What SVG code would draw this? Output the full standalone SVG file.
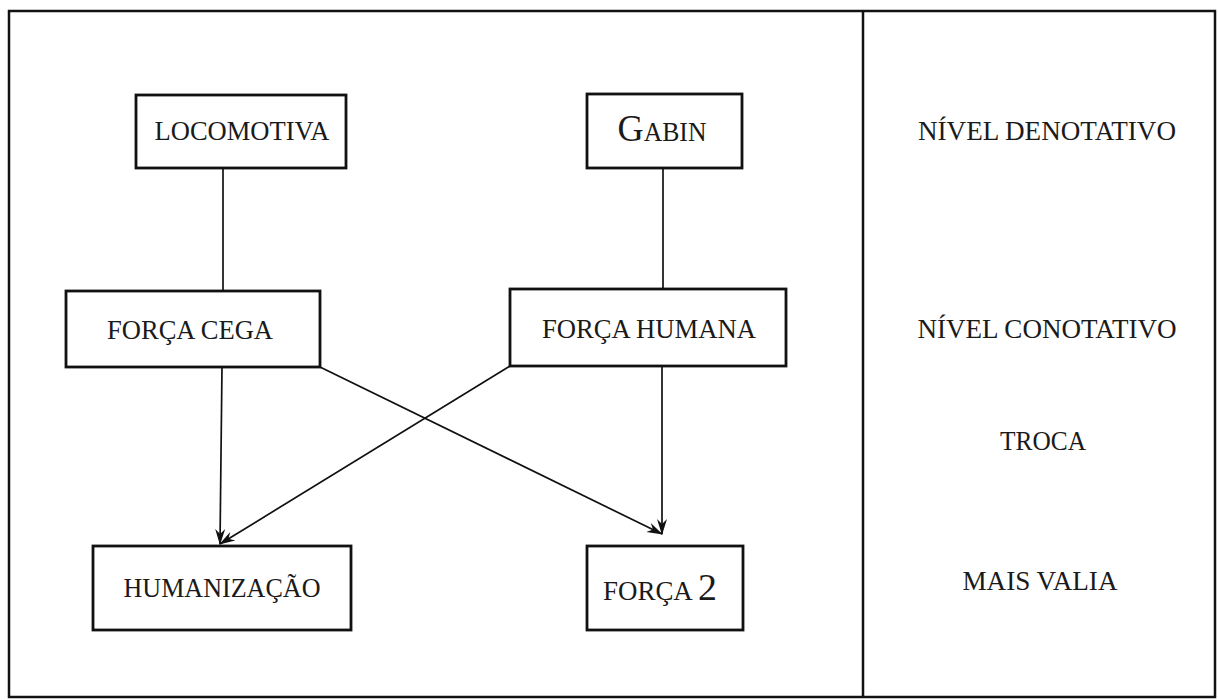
<svg xmlns="http://www.w3.org/2000/svg" width="1218" height="700" viewBox="0 0 1218 700">
<style>
.frame{fill:none;stroke:#111;stroke-width:2.5}
.box{fill:#fff;stroke:#111;stroke-width:2.8}
.t{font-family:"Liberation Serif","Times New Roman",serif;font-size:27px;fill:#1a1a1a;text-anchor:middle}
.big{font-size:38px}
.c{fill:none;stroke:#111;stroke-width:1.7}
</style>
<defs>
<marker id="arr" viewBox="0 0 16 12" refX="15" refY="6" markerWidth="16" markerHeight="12" markerUnits="userSpaceOnUse" orient="auto">
<path d="M0,1 L16,6 L0,11 L5,6 Z" fill="#111"/>
</marker>
</defs>
<rect width="1218" height="700" fill="#fff"/>
<g id="frame">
<rect class="frame" x="9" y="11" width="1206" height="686"/>
<line class="frame" x1="863" y1="11" x2="863" y2="697"/>
</g>
<g id="connectors">
<line class="c" x1="223" y1="168" x2="223" y2="291"/>
<line class="c" x1="663" y1="168" x2="663" y2="289"/>
<line class="c" x1="222" y1="367" x2="220" y2="544" marker-end="url(#arr)"/>
<line class="c" x1="510" y1="366" x2="220" y2="544" marker-end="url(#arr)"/>
<line class="c" x1="662" y1="366" x2="662" y2="534" marker-end="url(#arr)"/>
<line class="c" x1="320" y1="367" x2="662" y2="534" marker-end="url(#arr)"/>
</g>
<g id="locomotiva">
<rect class="box" x="136" y="95" width="210" height="73"/>
<text class="t" x="242" y="140" textLength="175" lengthAdjust="spacingAndGlyphs">LOCOMOTIVA</text>
</g>
<g id="gabin">
<rect class="box" x="587" y="94" width="155" height="74"/>
<text class="t" x="662" y="141" textLength="89" lengthAdjust="spacingAndGlyphs"><tspan class="big">G</tspan>ABIN</text>
</g>
<g id="forca-cega">
<rect class="box" x="66" y="291" width="254" height="76"/>
<text class="t" x="190" y="339" textLength="166" lengthAdjust="spacingAndGlyphs">FORÇA CEGA</text>
</g>
<g id="forca-humana">
<rect class="box" x="510" y="289" width="276" height="77"/>
<text class="t" x="649" y="338" textLength="214" lengthAdjust="spacingAndGlyphs">FORÇA HUMANA</text>
</g>
<g id="humanizacao">
<rect class="box" x="93" y="546" width="258" height="84"/>
<text class="t" x="222" y="597" textLength="197" lengthAdjust="spacingAndGlyphs">HUMANIZAÇÃO</text>
</g>
<g id="forca2">
<rect class="box" x="587" y="546" width="156" height="84"/>
<text class="t" x="660" y="600" textLength="114" lengthAdjust="spacingAndGlyphs">FORÇA <tspan class="big">2</tspan></text>
</g>
<g id="levels">
<text class="t" x="1047" y="140" textLength="258" lengthAdjust="spacingAndGlyphs">NÍVEL DENOTATIVO</text>
<text class="t" x="1047" y="338" textLength="259" lengthAdjust="spacingAndGlyphs">NÍVEL CONOTATIVO</text>
<text class="t" x="1043" y="450" textLength="86" lengthAdjust="spacingAndGlyphs">TROCA</text>
<text class="t" x="1040" y="590" textLength="155" lengthAdjust="spacingAndGlyphs">MAIS VALIA</text>
</g>
</svg>
